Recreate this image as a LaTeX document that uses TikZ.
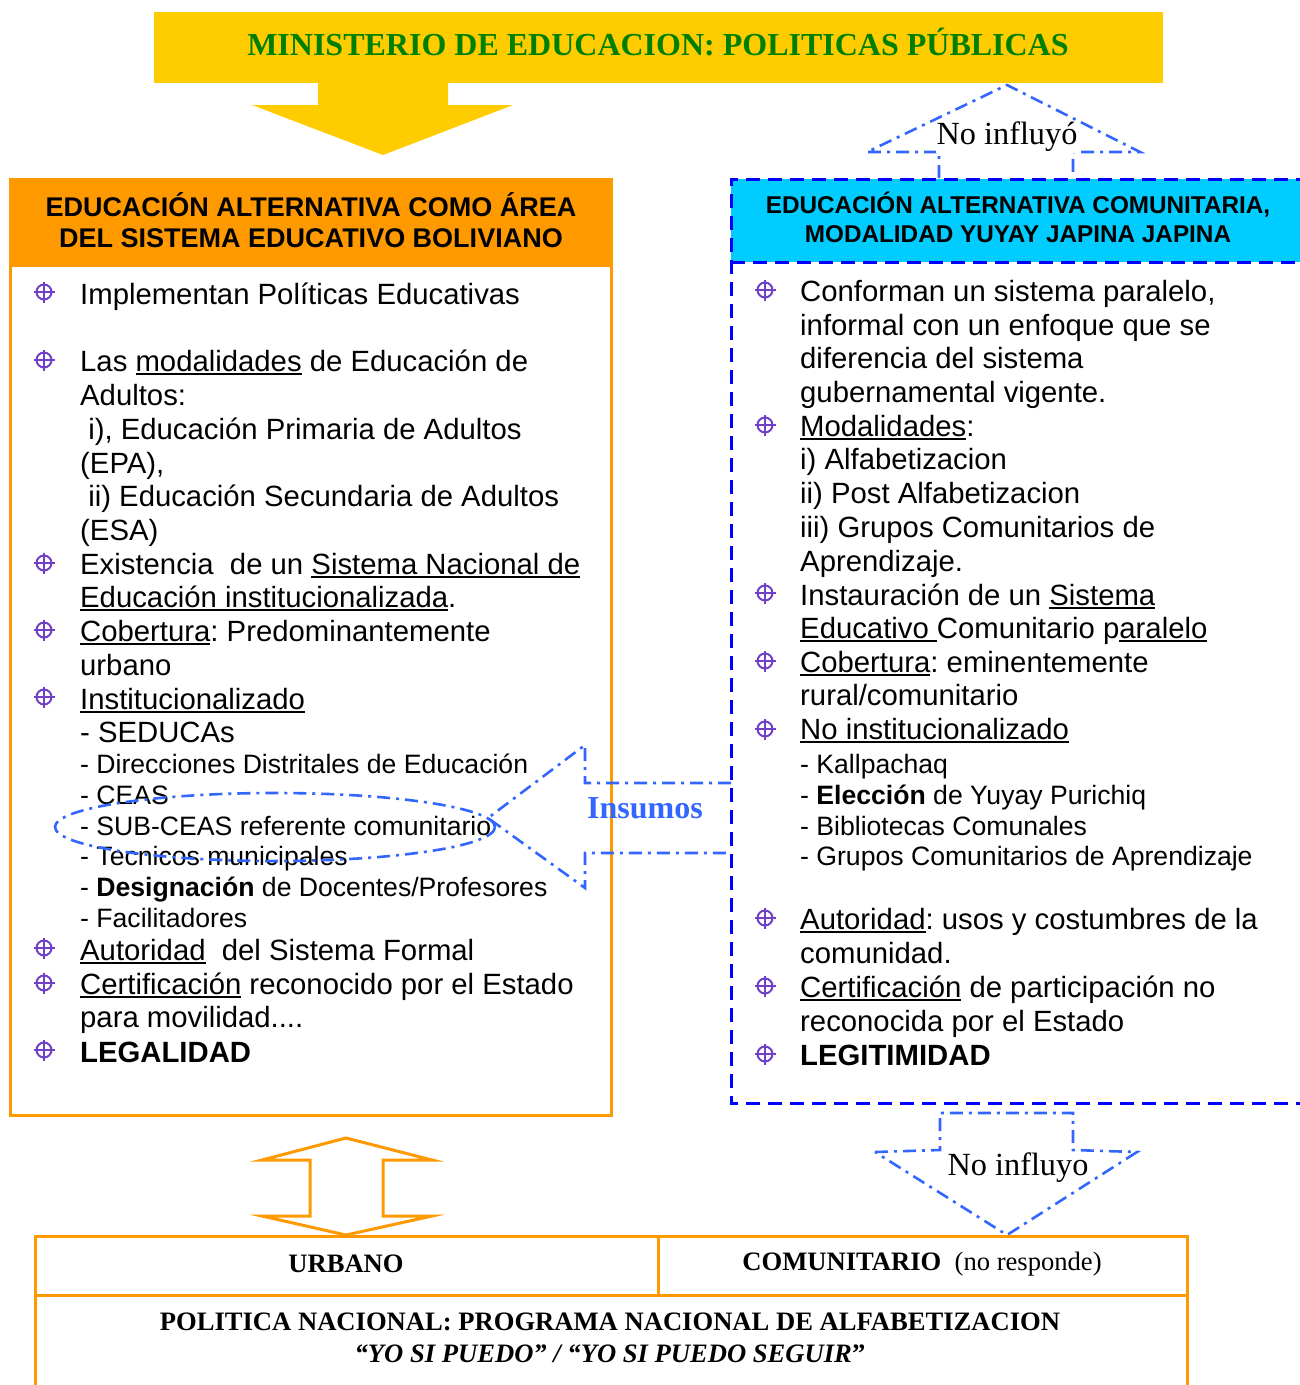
\documentclass[tikz,border=0pt]{standalone}
\usepackage{fontspec}
\setmainfont{Liberation Sans}
\newfontfamily\serifF{Liberation Serif}
\definecolor{yel}{HTML}{FFCC00}
\definecolor{grn}{HTML}{008000}
\definecolor{org}{HTML}{FF9900}
\definecolor{cya}{HTML}{00CCFF}
\definecolor{bdash}{HTML}{0000FF}
\definecolor{bdd}{HTML}{3366FF}
\definecolor{bul}{HTML}{7040C8}
\newcommand\myul[1]{\setbox0\hbox{#1}\rlap{\rule[-3.5pt]{\wd0}{1.7pt}}\box0\relax}
\tikzset{
  tl/.style={anchor=base west, inner sep=0pt, font=\frenchspacing\fontsize{29.3}{34}\selectfont},
  ts/.style={anchor=base west, inner sep=0pt, font=\frenchspacing\fontsize{26.6}{31}\selectfont},
  hdr/.style={inner sep=0pt, align=center, font=\bfseries\fontsize{27}{31}\selectfont},
  dd/.style={draw=bdd, line width=2.6pt, dash pattern=on 13pt off 6pt on 3pt off 6pt},
  bx/.style={draw=org, line width=3pt},
  pics/bullet/.style={code={
    \draw[bul, line width=2pt] (0,0) circle (7.5);
    \draw[bul, line width=2pt] (-10.5,0) -- (10.5,0) (0,-10.5) -- (0,10.5);
  }}
}
\begin{document}
\begin{tikzpicture}[x=1pt,y=-1pt]
\useasboundingbox (0,0) rectangle (1300,1385);
\clip (0,0) rectangle (1300,1385);
% top title
\fill[yel] (154,12) rectangle (1163,83);
\node[inner sep=0pt, text=grn, font=\serifF\bfseries\fontsize{32}{38}\selectfont] (title) at (658,42) {MINISTERIO DE EDUCACION: POLITICAS PÚBLICAS};
\fill[yel] (318,82) -- (448,82) -- (448,105) -- (513,105) -- (383,155) -- (252,105) -- (318,105) -- cycle;
% left box
\fill[org] (10,179) rectangle (611,267);
\draw[bx] (10,179) rectangle (611,1115);
\node[hdr] (lh) at (311,220) {EDUCACIÓN ALTERNATIVA COMO ÁREA\\DEL SISTEMA EDUCATIVO BOLIVIANO};
% right box
\fill[cya] (731,179) rectangle (1300,262);
\draw[bdash, line width=3pt, dash pattern=on 14pt off 8pt] (1310,179) -- (731,179) -- (731,1103) -- (1310,1103);
\draw[bdash, line width=3pt, dash pattern=on 14pt off 8pt] (731,262) -- (1310,262);
\node[hdr, font=\bfseries\fontsize{24.3}{29}\selectfont] (rh) at (1018,217) {EDUCACIÓN ALTERNATIVA COMUNITARIA,\\MODALIDAD YUYAY JAPINA JAPINA};
% left bullets
\foreach \yy in {292,360,563,630,697,948,983,1050} \pic at (44,\yy) {bullet};
% left text
\node[tl] (l1) at (80,304) {Implementan Políticas Educativas};
\node[tl] (l2) at (80,371) {Las \myul{modalidades} de Educación de};
\node[tl] (l3) at (80,405) {Adultos:};
\node[tl] (l4) at (80,439) {\ i), Educación Primaria de Adultos};
\node[tl] (l5) at (80,473) {(EPA),};
\node[tl] (l6) at (80,506) {\ ii) Educación Secundaria de Adultos};
\node[tl] (l7) at (80,540) {(ESA)};
\node[tl] (l8) at (80,574) {Existencia\ \ de un \myul{Sistema Nacional de}};
\node[tl] (l9) at (80,607) {\myul{Educación institucionalizada}.};
\node[tl] (l10) at (80,641) {\myul{Cobertura}: Predominantemente};
\node[tl] (l11) at (80,675) {urbano};
\node[tl] (l12) at (80,709) {\myul{Institucionalizado}};
\node[tl] (l13) at (80,742) {- SEDUCAs};
\node[ts] (l14) at (80,773) {- Direcciones Distritales de Educación};
\node[ts] (l15) at (80,804) {- CEAS};
\node[ts] (l16) at (80,835) {- SUB-CEAS referente comunitario};
\node[ts] (l17) at (80,865) {- Tecnicos municipales};
\node[ts] (l18) at (80,896) {- \textbf{Designación} de Docentes/Profesores};
\node[ts] (l19) at (80,927) {- Facilitadores};
\node[tl] (l20) at (80,960) {\myul{Autoridad}\ \ del Sistema Formal};
\node[tl] (l21) at (80,994) {\myul{Certificación} reconocido por el Estado};
\node[tl] (l22) at (80,1027) {para movilidad....};
\node[tl] (l23) at (80,1062) {\textbf{LEGALIDAD}};
% right bullets
\foreach \yy in {290,425,593,661,729,918,986,1054} \pic at (765,\yy) {bullet};
% right text
\node[tl] (r1) at (800,301) {Conforman un sistema paralelo,};
\node[tl] (r2) at (800,335) {informal con un enfoque que se};
\node[tl] (r3) at (800,368) {diferencia del sistema};
\node[tl] (r4) at (800,402) {gubernamental vigente.};
\node[tl] (r5) at (800,436) {\myul{Modalidades}:};
\node[tl] (r6) at (800,469) {i) Alfabetizacion};
\node[tl] (r7) at (800,503) {ii) Post Alfabetizacion};
\node[tl] (r8) at (800,537) {iii) Grupos Comunitarios de};
\node[tl] (r9) at (800,571) {Aprendizaje.};
\node[tl] (r10) at (800,605) {Instauración de un \myul{Sistema}};
\node[tl] (r11) at (800,638) {\myul{Educativo }Comunitario p\myul{aralelo}};
\node[tl] (r12) at (800,672) {\myul{Cobertura}: eminentemente};
\node[tl] (r13) at (800,705) {rural/comunitario};
\node[tl] (r14) at (800,739) {\myul{No institucionalizado}};
\node[ts] (r15) at (800,773) {- Kallpachaq};
\node[ts] (r16) at (800,804) {- \textbf{Elección} de Yuyay Purichiq};
\node[ts] (r17) at (800,835) {- Bibliotecas Comunales};
\node[ts] (r18) at (800,865) {- Grupos Comunitarios de Aprendizaje};
\node[tl] (r19) at (800,929) {\myul{Autoridad}: usos y costumbres de la};
\node[tl] (r20) at (800,963) {comunidad.};
\node[tl] (r21) at (800,997) {\myul{Certificación} de participación no};
\node[tl] (r22) at (800,1031) {reconocida por el Estado};
\node[tl] (r23) at (800,1065) {\textbf{LEGITIMIDAD}};
% no influyo up arrow
\draw[dd] (939,178) -- (939,152) -- (867,152) -- (1007,85) -- (1140,152) -- (1073,152) -- (1073,178);
\node[inner sep=1pt, fill=white, font=\serifF\fontsize{32.3}{38}\selectfont] (ni1) at (1007,137) {No influyó};
% insumos arrow + ellipse
\draw[dd] (275,827) ellipse [x radius=220, y radius=34];
\draw[dd] (731,783) -- (585,783) -- (585,745) -- (488,818) -- (585,888) -- (585,853) -- (731,853);
\node[inner sep=0pt, text=bdd, font=\serifF\bfseries\fontsize{32}{36}\selectfont] (ins) at (645,808) {Insumos};
% bottom down arrow
\draw[dd] (875,1152) -- (940,1150) -- (940,1113) -- (1073,1113) -- (1073,1150) -- (1137,1152) -- (1007,1235) -- cycle;
\node[inner sep=1pt, font=\serifF\fontsize{32.3}{38}\selectfont] (ni2) at (1018,1168) {No influyo};
% orange double arrow
\draw[bx, line join=miter] (346,1138) -- (432,1160) -- (383,1160) -- (383,1216) -- (432,1216) -- (346,1235) -- (262,1216) -- (310,1216) -- (310,1160) -- (262,1160) -- cycle;
% bottom table
\draw[bx] (35,1395) -- (35,1236) -- (1187,1236) -- (1187,1395);
\draw[bx] (35,1295) -- (1187,1295);
\draw[bx] (658,1236) -- (658,1295);
\node[inner sep=0pt, font=\serifF\bfseries\fontsize{26.6}{31}\selectfont] (urb) at (346,1264) {URBANO};
\node[inner sep=0pt, font=\serifF\fontsize{26.6}{31}\selectfont] (com) at (922,1264) {\textbf{COMUNITARIO}\ \ (no responde)};
\node[inner sep=0pt, align=center, font=\serifF\bfseries\fontsize{26.6}{32}\selectfont] (pol) at (610,1338) {POLITICA NACIONAL: PROGRAMA NACIONAL DE ALFABETIZACION\\\textit{“YO SI PUEDO” / “YO SI PUEDO SEGUIR}”};
\end{tikzpicture}
\end{document}
